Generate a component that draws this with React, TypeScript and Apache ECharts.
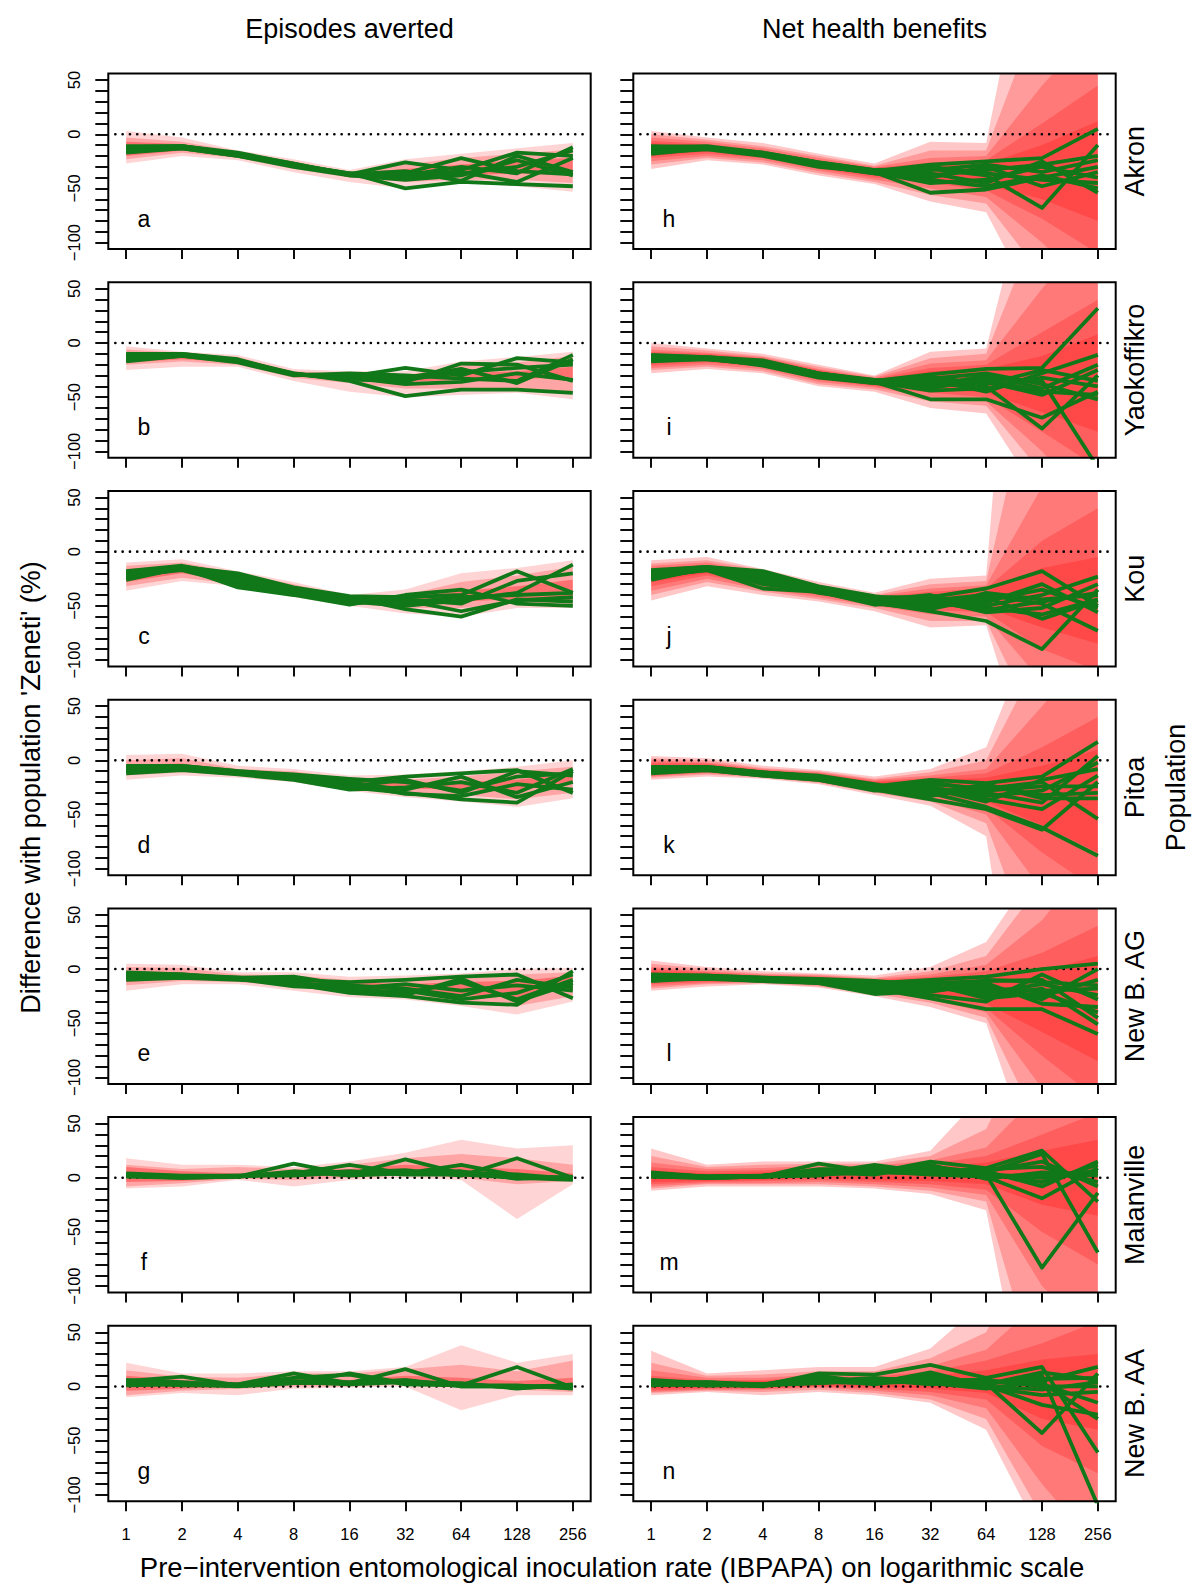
import React, { useEffect, useRef } from "react";
import * as echarts from "echarts";

// ---------------- data ----------------
const EIR = [1, 2, 4, 8, 16, 32, 64, 128, 256];
const X_TICKS = [0, 1, 2, 3, 4, 5, 6, 7, 8];
const Y_TICKS = [-100, -90, -80, -70, -60, -50, -40, -30, -20, -10, 0, 10, 20, 30, 40, 50];
const Y_LABELS = [-100, -50, 0, 50];
const COLUMN_TITLES = ["Episodes averted", "Net health benefits"];
const POPULATIONS = ["Akron", "Yaokoffikro", "Kou", "Pitoa", "New B. AG", "Malanville", "New B. AA"];
const LETTERS = ["a", "b", "c", "d", "e", "f", "g", "h", "i", "j", "k", "l", "m", "n"];
const Y_TITLE = "Difference with population 'Zeneti' (%)";
const X_TITLE = "Pre\u2212intervention entomological inoculation rate (IBPAPA) on logarithmic scale";
const RIGHT_TITLE = "Population";

// ---- Episodes averted (left column) ----
const aLines = [
  [-13, -11, -18, -27, -37, -36, -22, -34, -37],
  [-15, -12, -19, -29, -37, -26, -33, -17, -20],
  [-12, -11, -18, -28, -36, -50, -44, -46, -48],
  [-17, -13, -20, -30, -38, -40, -36, -30, -15],
  [-14, -12, -19, -29, -37, -34, -43, -20, -35],
  [-16, -13, -20, -28, -36, -38, -30, -36, -12],
  [-11, -11, -17, -27, -38, -42, -38, -24, -38],
  [-15, -12, -19, -29, -37, -36, -35, -44, -22],
];
const aBandLo = [
  [-27, -20, -24, -35, -44, -50, -45, -48, -53],
  [-23, -17, -22, -32, -40, -44, -42, -42, -45],
  [-20, -15, -21, -30, -38, -40, -38, -36, -38],
];
const aBandHi = [
  [3, -3, -15, -23, -33, -23, -18, -13, -8],
  [-3, -7, -16, -25, -35, -28, -22, -18, -14],
  [-7, -9, -17, -27, -36, -32, -28, -24, -22],
];

const bLines = [
  [-12, -11, -16, -29, -31, -23, -30, -14, -18],
  [-15, -11, -17, -28, -35, -49, -43, -43, -46],
  [-10, -10, -15, -29, -33, -36, -19, -20, -35],
  [-17, -12, -18, -30, -28, -30, -33, -35, -11],
  [-13, -11, -16, -28, -34, -34, -27, -23, -20],
  [-16, -12, -17, -29, -32, -38, -36, -28, -34],
  [-11, -10, -16, -29, -30, -32, -24, -37, -15],
];
const bBandLo = [
  [-25, -22, -22, -35, -45, -50, -48, -46, -52],
  [-20, -17, -20, -32, -37, -42, -42, -42, -45],
  [-18, -15, -18, -30, -34, -36, -34, -33, -32],
];
const bBandHi = [
  [-3, -8, -11, -24, -26, -26, -17, -13, -8],
  [-6, -9, -13, -26, -28, -30, -20, -18, -12],
  [-8, -10, -14, -27, -30, -33, -28, -26, -22],
];

const cLines = [
  [-20, -14, -20, -33, -41, -42, -40, -18, -38],
  [-24, -16, -28, -36, -46, -50, -45, -38, -12],
  [-18, -13, -22, -34, -42, -53, -60, -44, -46],
  [-22, -17, -30, -38, -48, -44, -48, -27, -20],
  [-26, -15, -33, -40, -49, -40, -35, -48, -50],
  [-21, -14, -25, -35, -43, -47, -42, -40, -38],
  [-19, -16, -22, -37, -45, -45, -55, -45, -42],
];
const cBandLo = [
  [-36, -27, -32, -42, -50, -57, -60, -52, -52],
  [-32, -24, -30, -40, -48, -52, -52, -48, -48],
  [-28, -20, -28, -37, -46, -48, -46, -44, -44],
];
const cBandHi = [
  [-10, -7, -18, -28, -40, -35, -20, -15, -8],
  [-13, -10, -20, -30, -42, -40, -28, -22, -14],
  [-16, -13, -22, -33, -43, -42, -36, -32, -26],
];

const dLines = [
  [-7, -6, -11, -14, -20, -15, -12, -9, -30],
  [-10, -8, -12, -16, -25, -30, -36, -39, -10],
  [-5, -5, -10, -13, -17, -20, -28, -15, -12],
  [-12, -9, -13, -18, -27, -25, -20, -30, -8],
  [-8, -7, -12, -15, -22, -31, -33, -22, -27],
  [-9, -6, -11, -17, -24, -18, -30, -10, -14],
  [-6, -5, -10, -14, -21, -27, -15, -34, -20],
];
const dBandLo = [
  [-18, -14, -16, -20, -28, -34, -38, -43, -35],
  [-14, -11, -14, -18, -26, -30, -32, -36, -30],
  [-12, -9, -13, -17, -24, -26, -27, -28, -20],
];
const dBandHi = [
  [5, 6, -5, -8, -14, -13, -10, -6, 0],
  [0, 2, -8, -10, -17, -18, -15, -10, -6],
  [-4, -3, -10, -12, -19, -21, -20, -18, -12],
];

const eLines = [
  [-5, -6, -8, -10, -12, -10, -7, -5, -27],
  [-8, -7, -9, -14, -22, -25, -31, -33, -2],
  [-4, -5, -8, -7, -15, -18, -25, -10, -17],
  [-10, -8, -10, -12, -20, -22, -12, -28, -10],
  [-6, -6, -9, -16, -18, -14, -20, -15, -20],
  [-7, -7, -8, -11, -21, -20, -28, -22, -5],
  [-3, -5, -9, -13, -16, -24, -9, -30, -13],
];
const eBandLo = [
  [-20, -14, -14, -20, -26, -28, -34, -42, -30],
  [-15, -11, -12, -16, -23, -25, -30, -34, -25],
  [-12, -9, -11, -13, -20, -20, -24, -26, -18],
];
const eBandHi = [
  [5, 4, -3, -3, -7, -6, -4, 0, 1],
  [2, 1, -5, -6, -10, -9, -7, -5, -3],
  [-2, -3, -7, -8, -12, -14, -12, -11, -6],
];

const fLines = [
  [3, 1, 1, 13, 3, 17, 4, 1, 0],
  [2, 0, 1, 4, 12, 4, 12, 2, -1],
  [4, 2, 2, 2, 5, 7, 2, 18, 0],
  [1, 0, 1, 5, 4, 5, 6, -1, 1],
  [3, 1, 2, 3, 6, 3, 3, 0, -2],
  [2, 1, 1, 6, 2, 4, 5, 3, -1],
];
const fBandLo = [
  [-10, -8, -2, -8, -2, 0, -2, -38, -6],
  [-8, -5, -1, -2, 0, 2, 0, -6, -3],
  [-4, -3, 0, 1, 2, 4, 3, 0, -2],
];
const fBandHi = [
  [18, 12, 12, 10, 15, 23, 35, 27, 30],
  [12, 8, 10, 8, 12, 18, 22, 18, 12],
  [10, 6, 4, 6, 8, 12, 10, 8, 4],
];

const gLines = [
  [5, 9, 1, 3, 12, 3, 1, 18, -1],
  [3, 2, 2, 12, 3, 16, 0, 0, 1],
  [6, 4, 1, 5, 4, 5, 2, -1, 0],
  [2, 3, 2, 8, 11, 2, 1, 1, -2],
  [4, 1, 1, 4, 2, 4, 3, -2, 2],
  [1, 2, 0, 3, 3, 6, 0, 0, -1],
];
const gBandLo = [
  [-10, -6, -8, -2, -1, 0, -22, -8, -8],
  [-8, -4, -2, 0, 0, 2, 0, -3, -5],
  [-4, -2, 0, 2, 1, 3, 2, 0, -3],
];
const gBandHi = [
  [22, 12, 12, 14, 14, 18, 38, 22, 30],
  [15, 9, 8, 12, 12, 16, 20, 14, 24],
  [10, 6, 4, 8, 6, 10, 8, 5, 8],
];

// ---- Net health benefits (right column) ----
const hLines = [
  [-14, -12, -18, -27, -34, -28, -25, -22, 5],
  [-16, -13, -19, -28, -35, -54, -51, -40, -30],
  [-12, -11, -17, -26, -33, -32, -38, -68, -10],
  [-18, -13, -19, -29, -36, -40, -30, -48, -35],
  [-13, -12, -18, -28, -34, -36, -45, -25, -54],
  [-15, -12, -18, -27, -35, -33, -28, -35, -24],
  [-17, -14, -20, -30, -35, -45, -42, -30, -40],
  [-14, -13, -19, -28, -34, -30, -36, -42, -45],
  [-11, -12, -17, -26, -33, -38, -33, -28, -20],
  [-16, -13, -18, -29, -36, -42, -48, -38, -50],
];
const hBandLo = [
  [-32, -24, -28, -38, -46, -62, -72, -170, -250],
  [-28, -22, -26, -36, -44, -56, -64, -130, -200],
  [-25, -20, -24, -34, -42, -50, -58, -100, -150],
  [-22, -18, -22, -32, -40, -45, -52, -78, -110],
  [-20, -16, -21, -31, -38, -42, -47, -60, -80],
];
const hBandHi = [
  [3, -3, -8, -18, -27, -7, -8, 250, 300],
  [0, -5, -11, -20, -29, -15, -15, 120, 200],
  [-3, -7, -13, -22, -30, -22, -20, 45, 100],
  [-6, -9, -15, -24, -31, -26, -24, 10, 45],
  [-8, -10, -16, -25, -32, -29, -27, -10, 12],
];

const iLines = [
  [-14, -14, -17, -29, -35, -29, -24, -23, 32],
  [-16, -15, -19, -30, -36, -52, -52, -69, -45],
  [-12, -13, -16, -28, -34, -38, -40, -79, -30],
  [-17, -15, -20, -31, -36, -42, -33, -35, -115],
  [-13, -14, -18, -29, -35, -34, -45, -28, -11],
  [-15, -14, -21, -32, -37, -40, -30, -42, -20],
  [-11, -13, -17, -28, -35, -33, -28, -38, -52],
  [-14, -15, -18, -30, -34, -36, -36, -48, -25],
  [-16, -14, -19, -29, -36, -44, -42, -32, -40],
  [-13, -14, -17, -28, -35, -31, -38, -25, -35],
  [-15, -15, -20, -31, -37, -38, -34, -45, -48],
];
const iBandLo = [
  [-28, -24, -28, -40, -45, -60, -65, -145, -300],
  [-25, -22, -26, -38, -43, -54, -58, -120, -220],
  [-23, -20, -24, -36, -41, -50, -54, -100, -160],
  [-21, -18, -22, -34, -40, -46, -50, -82, -115],
  [-19, -16, -21, -32, -38, -42, -46, -64, -82],
];
const iBandHi = [
  [0, -5, -10, -20, -30, -8, -5, 200, 300],
  [-3, -7, -12, -22, -31, -14, -10, 120, 220],
  [-6, -9, -13, -24, -32, -19, -16, 50, 110],
  [-8, -10, -14, -25, -33, -23, -20, 10, 40],
  [-10, -11, -15, -26, -34, -26, -24, -12, 8],
];

const jLines = [
  [-20, -15, -20, -33, -42, -42, -34, -18, -50],
  [-24, -16, -30, -36, -47, -55, -64, -90, -35],
  [-18, -14, -18, -32, -41, -48, -50, -40, -23],
  [-22, -17, -34, -37, -49, -45, -40, -48, -73],
  [-26, -15, -25, -38, -45, -40, -52, -58, -44],
  [-21, -16, -22, -34, -43, -50, -45, -35, -52],
  [-19, -15, -27, -35, -46, -52, -38, -44, -40],
  [-23, -17, -24, -36, -44, -44, -56, -52, -30],
  [-17, -14, -21, -33, -42, -47, -47, -30, -56],
  [-25, -16, -28, -37, -48, -53, -42, -62, -45],
  [-20, -15, -23, -34, -43, -46, -54, -46, -38],
];
const jBandLo = [
  [-45, -32, -40, -46, -55, -70, -68, -230, -400],
  [-40, -28, -37, -44, -52, -64, -64, -170, -220],
  [-36, -25, -35, -42, -50, -58, -60, -120, -160],
  [-32, -22, -32, -40, -48, -54, -56, -90, -110],
  [-28, -20, -30, -38, -47, -51, -52, -70, -85],
];
const jBandHi = [
  [-8, -5, -16, -28, -38, -25, -22, 600, 800],
  [-11, -8, -17, -30, -40, -30, -27, 200, 300],
  [-13, -10, -19, -31, -41, -34, -31, 60, 120],
  [-15, -12, -20, -32, -42, -37, -34, 10, 40],
  [-17, -13, -22, -33, -43, -40, -37, -15, -5],
];

const kLines = [
  [-8, -7, -12, -15, -24, -18, -21, -15, 17],
  [-10, -8, -13, -17, -27, -36, -45, -64, -20],
  [-6, -6, -11, -14, -22, -30, -43, -62, -88],
  [-12, -9, -14, -18, -28, -26, -30, -39, 4],
  [-9, -7, -12, -16, -25, -22, -26, -20, -54],
  [-7, -6, -11, -15, -23, -28, -33, -28, -2],
  [-11, -8, -13, -17, -26, -33, -24, -32, -30],
  [-8, -7, -12, -16, -24, -24, -36, -45, -14],
  [-10, -9, -14, -18, -27, -20, -28, -24, -24],
  [-9, -8, -12, -16, -25, -31, -22, -35, -35],
  [-7, -7, -11, -15, -24, -26, -38, -18, -8],
];
const kBandLo = [
  [-18, -15, -17, -22, -32, -42, -70, -400, -400],
  [-16, -13, -16, -21, -30, -38, -58, -200, -250],
  [-15, -12, -15, -20, -29, -35, -50, -120, -170],
  [-14, -11, -14, -19, -28, -33, -44, -85, -120],
  [-12, -10, -13, -18, -27, -30, -38, -60, -85],
];
const kBandHi = [
  [4, 2, -5, -9, -15, -8, 12, 140, 300],
  [2, 0, -7, -10, -17, -11, 0, 100, 220],
  [0, -2, -8, -11, -18, -14, -8, 50, 110],
  [-2, -3, -9, -12, -19, -16, -12, 12, 40],
  [-4, -4, -10, -13, -20, -18, -16, -5, 10],
];

const lLines = [
  [-7, -7, -9, -10, -13, -10, -7, 0, 5],
  [-9, -8, -10, -12, -18, -27, -37, -37, -60],
  [-5, -6, -8, -9, -11, -15, -25, -18, -51],
  [-10, -9, -11, -13, -23, -20, -15, -28, 0],
  [-8, -7, -9, -11, -15, -13, -11, -10, -45],
  [-6, -6, -8, -10, -14, -18, -20, -25, -10],
  [-11, -8, -10, -12, -19, -24, -30, -5, -28],
  [-7, -7, -9, -11, -16, -12, -18, -20, -18],
  [-9, -8, -11, -12, -17, -21, -13, -32, -35],
  [-8, -7, -9, -10, -12, -16, -22, -14, -24],
  [-6, -6, -10, -11, -20, -14, -27, -22, -40],
  [-10, -8, -10, -13, -15, -19, -10, -12, -15],
];
const lBandLo = [
  [-20, -16, -14, -17, -25, -35, -50, -200, -400],
  [-18, -14, -13, -16, -23, -31, -45, -150, -250],
  [-16, -13, -12, -15, -21, -28, -40, -110, -170],
  [-14, -12, -12, -14, -20, -26, -36, -80, -120],
  [-12, -11, -11, -13, -18, -24, -32, -58, -85],
];
const lBandHi = [
  [8, 2, -2, -4, -6, 2, 25, 100, 300],
  [5, 0, -4, -5, -8, -2, 12, 80, 220],
  [2, -2, -5, -6, -9, -5, 4, 45, 110],
  [0, -3, -6, -7, -10, -7, -2, 15, 40],
  [-2, -4, -7, -8, -11, -9, -6, -2, 12],
];

const mLines = [
  [3, 1, 1, 13, 5, 15, 9, 25, -22],
  [2, 0, 1, 4, 12, 5, 3, -83, -14],
  [5, 1, 2, 6, 4, 10, 5, 22, -69],
  [1, 0, 1, 3, 6, 3, 1, -19, 9],
  [4, 1, 1, 8, 8, 8, 6, -8, 15],
  [2, 1, 2, 5, 3, 12, -1, 5, 2],
  [3, 0, 1, 2, 10, 6, 8, 10, -4],
  [4, 1, 2, 7, 5, 4, 3, 0, 4],
  [1, 0, 1, 4, 7, 9, 4, -4, 12],
  [3, 1, 1, 6, 6, 7, 6, 15, -8],
  [2, 1, 2, 3, 5, 11, 2, 2, 6],
];
const mBandLo = [
  [-12, -8, -8, -8, -10, -15, -30, -290, -400],
  [-10, -6, -6, -6, -8, -12, -22, -200, -250],
  [-8, -5, -5, -4, -6, -9, -16, -100, -150],
  [-6, -4, -3, -2, -4, -6, -11, -50, -80],
  [-4, -3, -2, 0, -2, -3, -6, -25, -35],
];
const mBandHi = [
  [27, 12, 15, 15, 15, 25, 80, 200, 300],
  [20, 10, 12, 13, 13, 20, 45, 150, 250],
  [14, 8, 9, 11, 11, 16, 28, 80, 120],
  [10, 6, 7, 9, 9, 13, 20, 40, 60],
  [7, 4, 5, 7, 7, 10, 14, 25, 35],
];

const nLines = [
  [3, 4, 1, 12, 11, 20, 8, 18, -61],
  [5, 2, 2, 4, 3, 5, 3, -43, 12],
  [1, 3, 1, 6, 5, 10, 1, -17, -26],
  [4, 1, 2, 3, 6, 3, -2, 5, 18],
  [2, 2, 0, 8, 4, 7, 5, 2, -15],
  [6, 3, 1, 5, 8, 4, 2, 10, -110],
  [3, 4, 2, 10, 3, 13, 0, -3, 4],
  [2, 1, 1, 4, 7, 6, 6, 0, 0],
  [4, 2, 2, 7, 5, 8, 3, 7, 8],
  [1, 3, 1, 5, 4, 11, -1, -8, -5],
  [5, 2, 1, 3, 6, 2, 4, 3, -30],
  [3, 1, 2, 6, 2, 9, 2, 13, 6],
];
const nBandLo = [
  [-8, -5, -8, -5, -8, -15, -40, -140, -400],
  [-6, -4, -5, -3, -6, -12, -30, -120, -250],
  [-5, -3, -3, -1, -4, -8, -20, -90, -150],
  [-4, -2, -2, 0, -2, -5, -12, -55, -80],
  [-2, -1, -1, 1, 0, -2, -6, -30, -40],
];
const nBandHi = [
  [33, 12, 15, 18, 18, 35, 80, 200, 300],
  [22, 10, 11, 14, 14, 26, 50, 150, 250],
  [15, 8, 8, 11, 11, 19, 34, 80, 120],
  [10, 6, 6, 9, 9, 14, 24, 40, 60],
  [7, 5, 5, 7, 7, 10, 15, 25, 30],
];

const PANELS = [
  { lines: aLines, lo: aBandLo, hi: aBandHi },
  { lines: bLines, lo: bBandLo, hi: bBandHi },
  { lines: cLines, lo: cBandLo, hi: cBandHi },
  { lines: dLines, lo: dBandLo, hi: dBandHi },
  { lines: eLines, lo: eBandLo, hi: eBandHi },
  { lines: fLines, lo: fBandLo, hi: fBandHi },
  { lines: gLines, lo: gBandLo, hi: gBandHi },
  { lines: hLines, lo: hBandLo, hi: hBandHi },
  { lines: iLines, lo: iBandLo, hi: iBandHi },
  { lines: jLines, lo: jBandLo, hi: jBandHi },
  { lines: kLines, lo: kBandLo, hi: kBandHi },
  { lines: lLines, lo: lBandLo, hi: lBandHi },
  { lines: mLines, lo: mBandLo, hi: mBandHi },
  { lines: nLines, lo: nBandLo, hi: nBandHi },
];

// ---------------- layout / style ----------------
const FONT = "'Liberation Sans', Arial, Helvetica, sans-serif";
const COL_LEFT = [108.3, 633.3];
const GRID_W = 482.4;
const GRID_H = 175.5;
const ROW_TOP0 = 73.6;
const ROW_PITCH = 208.7;
const X_MIN = -0.32;
const X_MAX = 8.32;
const Y_MIN = -106;
const Y_MAX = 56;
const GREEN = "#11781a";
const LEFT_BAND_COLORS = ["rgba(255,0,0,0.17)", "rgba(255,0,0,0.22)", "rgba(255,0,0,0.32)"];
const RIGHT_BAND_COLOR = "rgba(255,0,0,0.22)";

type Pt = number[];
function clipHalf(pts: Pt[], inside: (p: Pt) => boolean, cut: (a: Pt, b: Pt) => Pt): Pt[] {
  const out: Pt[] = [];
  for (let i = 0; i < pts.length; i++) {
    const cur = pts[i];
    const prev = pts[(i + pts.length - 1) % pts.length];
    const ci = inside(cur);
    const pi = inside(prev);
    if (ci) {
      if (!pi) out.push(cut(prev, cur));
      out.push(cur);
    } else if (pi) {
      out.push(cut(prev, cur));
    }
  }
  return out;
}
function clipRect(pts: Pt[], x0: number, y0: number, x1: number, y1: number): Pt[] {
  const atX = (a: Pt, b: Pt, x: number): Pt => [x, a[1] + ((b[1] - a[1]) * (x - a[0])) / (b[0] - a[0])];
  const atY = (a: Pt, b: Pt, y: number): Pt => [a[0] + ((b[0] - a[0]) * (y - a[1])) / (b[1] - a[1]), y];
  let p = pts;
  p = clipHalf(p, (q) => q[1] >= y0, (a, b) => atY(a, b, y0));
  if (p.length) p = clipHalf(p, (q) => q[1] <= y1, (a, b) => atY(a, b, y1));
  if (p.length) p = clipHalf(p, (q) => q[0] >= x0, (a, b) => atX(a, b, x0));
  if (p.length) p = clipHalf(p, (q) => q[0] <= x1, (a, b) => atX(a, b, x1));
  return p;
}

function buildOption() {
  const XS = EIR.map((v) => Math.log2(v));
  const grid: any[] = [];
  const xAxis: any[] = [];
  const yAxis: any[] = [];
  const series: any[] = [];
  const graphic: any[] = [];

  PANELS.forEach((panel, idx) => {
    const col = idx < 7 ? 0 : 1;
    const row = idx % 7;
    const left = COL_LEFT[col];
    const top = ROW_TOP0 + row * ROW_PITCH;
    grid.push({ left, top, width: GRID_W, height: GRID_H, show: false, containLabel: false });
    xAxis.push({
      type: "value",
      gridIndex: idx,
      position: "bottom",
      min: X_MIN,
      max: X_MAX,
      axisLine: { show: false, onZero: false },
      splitLine: { show: false },
      axisTick: { show: true, inside: false, customValues: X_TICKS, length: 10, lineStyle: { color: "#000", width: 1.9 } },
      axisLabel: {
        show: row === 6,
        customValues: X_TICKS,
        formatter: (v: number) => String(Math.round(Math.pow(2, v))),
        margin: 24,
        color: "#000",
        fontSize: 16.5,
        fontFamily: FONT,
      },
    });
    yAxis.push({
      type: "value",
      gridIndex: idx,
      position: "left",
      min: Y_MIN,
      max: Y_MAX,
      axisLine: { show: false, onZero: false },
      splitLine: { show: false },
      axisTick: { show: true, inside: false, customValues: Y_TICKS, length: 13, lineStyle: { color: "#000", width: 1.9 } },
      axisLabel: {
        show: col === 0,
        customValues: Y_LABELS,
        rotate: 90,
        formatter: (v: number) => (v < 0 ? "\u2212" + String(-v) : String(v)),
        margin: 26,
        color: "#000",
        fontSize: 16.5,
        fontFamily: FONT,
      },
    });

    // bands
    panel.lo.forEach((lo, k) => {
      const hi = panel.hi[k];
      const color = col === 0 ? LEFT_BAND_COLORS[k] : RIGHT_BAND_COLOR;
      series.push({
        type: "custom",
        xAxisIndex: idx,
        yAxisIndex: idx,
        z: 1,
        silent: true,
        clip: true,
        encode: { x: 0, y: [1, 2] },
        data: XS.map((x, j) => [x, lo[j], hi[j]]),
        renderItem: (params: any, api: any) => {
          if (params.dataIndex !== 0) return null;
          const cs = params.coordSys;
          const upper = XS.map((x, j) => api.coord([x, hi[j]]));
          const lower = XS.map((x, j) => api.coord([x, lo[j]])).reverse();
          const pts = clipRect(upper.concat(lower), cs.x, cs.y, cs.x + cs.width, cs.y + cs.height);
          if (pts.length < 3) return null;
          return { type: "polygon", shape: { points: pts }, style: { fill: color, stroke: "none" } };
        },
      });
    });

    // dotted zero reference line
    series.push({
      type: "custom",
      xAxisIndex: idx,
      yAxisIndex: idx,
      z: 2,
      silent: true,
      data: [[0, 0]],
      renderItem: (params: any, api: any) => {
        const cs = params.coordSys;
        const p = api.coord([api.value(0), api.value(1)]);
        return {
          type: "line",
          shape: { x1: cs.x + 7, y1: p[1], x2: cs.x + cs.width - 3, y2: p[1] },
          style: { stroke: "#000", lineWidth: 2.6, lineDash: [0.1, 7.2], lineCap: "round" },
        };
      },
    });

    // green lines
    panel.lines.forEach((vals) => {
      series.push({
        type: "line",
        xAxisIndex: idx,
        yAxisIndex: idx,
        z: 3,
        silent: true,
        clip: true,
        symbol: "none",
        showSymbol: false,
        lineStyle: { color: GREEN, width: 3.8, join: "round" },
        data: XS.map((x, j) => [x, vals[j]]),
      });
    });

    // box
    graphic.push({
      type: "rect",
      z: 50,
      silent: true,
      shape: { x: left, y: top, width: GRID_W, height: GRID_H },
      style: { fill: "none", stroke: "#000", lineWidth: 2 },
    });
    // panel letter
    graphic.push({
      type: "text",
      z: 50,
      silent: true,
      x: left + 35.7,
      y: top + 145,
      style: {
        text: LETTERS[idx],
        fontSize: 23,
        fontFamily: FONT,
        fill: "#000",
        textAlign: "center",
        textVerticalAlign: "middle",
        verticalAlign: "middle",
      },
    });
    if (col === 1) {
      graphic.push({
        type: "text",
        z: 50,
        silent: true,
        x: 1135,
        y: top + GRID_H / 2,
        rotation: Math.PI / 2,
        style: {
          text: POPULATIONS[row],
          fontSize: 27,
          fontFamily: FONT,
          fill: "#000",
          textAlign: "center",
          textVerticalAlign: "middle",
          verticalAlign: "middle",
        },
      });
    }
  });

  const textStyle = (text: string, size = 27) => ({
    text,
    fontSize: size,
    fontFamily: FONT,
    fill: "#000",
    textAlign: "center",
    textVerticalAlign: "middle",
    verticalAlign: "middle",
  });
  COLUMN_TITLES.forEach((t, c) => {
    graphic.push({ type: "text", z: 50, silent: true, x: COL_LEFT[c] + GRID_W / 2, y: 29, style: textStyle(t) });
  });
  const midY = ROW_TOP0 + 3 * ROW_PITCH + GRID_H / 2;
  graphic.push({ type: "text", z: 50, silent: true, x: 31, y: midY, rotation: Math.PI / 2, style: textStyle(Y_TITLE) });
  graphic.push({ type: "text", z: 50, silent: true, x: 1176, y: midY, rotation: Math.PI / 2, style: textStyle(RIGHT_TITLE) });
  graphic.push({
    type: "text",
    z: 50,
    silent: true,
    x: (COL_LEFT[0] + COL_LEFT[1] + GRID_W) / 2,
    y: 1567,
    style: textStyle(X_TITLE, 27.5),
  });

  return { animation: false, backgroundColor: "#fff", grid, xAxis, yAxis, series, graphic };
}

export default function App() {
  const ref = useRef<HTMLDivElement>(null);
  useEffect(() => {
    if (!ref.current) return;
    const chart = echarts.init(ref.current, null, { renderer: "svg", width: 1200, height: 1589 });
    chart.setOption(buildOption() as any);
    return () => chart.dispose();
  }, []);
  return (
    <div
      ref={ref}
      style={{ position: "absolute", left: 0, top: 0, width: 1200, height: 1589, background: "#fff" }}
    />
  );
}
